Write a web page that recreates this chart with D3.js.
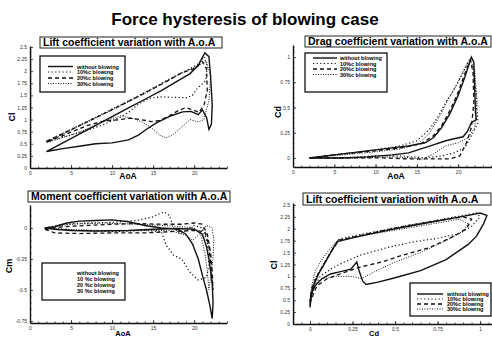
<!DOCTYPE html>
<html>
<head>
<meta charset="utf-8">
<script src="https://cdn.jsdelivr.net/npm/d3@7"></script>
<style>body{margin:0;background:#fff}</style>
</head>
<body>
<script>
const width = 492;
const height = 337;

// legend labels
const labelsA = ["without blowing", "10%c blowing", "20%c blowing", "30%c blowing"];
const labelsB = ["without blowing", "10 %c blowing", "20 %c blowing", "30 %c blowing"];

// tick values
const aoaTicks = [0, 5, 10, 15, 20];
const clTicks = [0, 0.25, 0.5, 0.75, 1, 1.25, 1.5, 1.75, 2, 2.25, 2.5];
const cdTicks = [0, 0.25, 0.5, 0.75, 1];
const cmTicks = [0, -0.25, -0.5, -0.75];

// Cl vs AoA  [AoA, Cl]
const clNone = [[2,0.34],[4,0.52],[6,0.70],[8,0.88],[10,1.06],[12,1.24],[14,1.42],[16,1.60],[18,1.80],[19.5,1.95],[20.5,2.12],[21.3,2.38],[21.8,2.30],[22.0,1.90],[22.2,1.30],[22.1,0.90],[21.8,0.80],[21.5,1.05],[21.0,1.20],[20.5,1.10],[19.6,1.17],[18.6,1.16],[17.2,1.08],[15.4,0.93],[14.2,0.80],[13.2,0.68],[12,0.58],[10,0.52],[8,0.50],[6,0.45],[4,0.40],[2,0.34]];
const cl10 = [[2,0.55],[5,0.80],[8,1.05],[11,1.30],[14,1.56],[17,1.84],[19.5,2.05],[20.5,2.15],[21.2,2.30],[21.6,2.10],[21.4,1.80],[20.4,1.65],[19.8,1.50],[19,1.45],[17.5,1.46],[16,1.47],[14.5,1.44],[13.2,1.32],[12,1.15],[11,1.05],[9,0.90],[7,0.78],[5,0.68],[2,0.55]];
const cl20 = [[2,0.55],[5,0.79],[8,1.04],[11,1.29],[14,1.55],[17,1.82],[18.5,1.97],[19.5,2.02],[20.3,2.08],[21,2.20],[21.5,2.05],[21.6,1.60],[21.2,1.30],[20.6,1.15],[19.8,1.20],[19,1.25],[18,1.18],[17,1.08],[15.8,0.98],[14.8,0.96],[13.5,1.00],[12.2,1.03],[11,1.00],[9,0.97],[7,0.88],[5,0.74],[2,0.53]];
const cl30 = [[2,0.53],[5,0.78],[8,1.03],[11,1.28],[14,1.54],[17,1.83],[19,2.00],[20.5,2.12],[21.5,2.20],[22.0,1.90],[21.8,1.40],[21.2,1.00],[20.5,0.95],[19.5,1.00],[18.5,0.85],[17.5,0.70],[16.6,0.62],[15.8,0.68],[15,0.80],[14,0.92],[13,1.00],[12,1.04],[11,1.08],[9,0.96],[6,0.74],[2,0.52]];

// Cd vs AoA  [AoA, Cd]
const cdNone = [[2,0],[5,0.03],[8,0.06],[11,0.09],[14,0.12],[16,0.15],[17,0.20],[18,0.30],[19,0.44],[20,0.62],[20.8,0.80],[21.6,1.00],[21.9,0.95],[22.0,0.70],[22.1,0.45],[22.2,0.38],[21.6,0.35],[21.1,0.26],[20.6,0.21],[19.5,0.19],[18.5,0.17],[17,0.13],[15.5,0.09],[14,0.05],[12,0.03],[9,0.01],[6,0],[2,0]];
const cd10 = [[2,0],[6,0.04],[10,0.08],[13,0.12],[15,0.17],[16.5,0.28],[17.5,0.40],[18.5,0.55],[19.5,0.68],[20.5,0.83],[21.2,0.95],[21.8,0.90],[22.2,0.60],[22.4,0.35],[21.8,0.25],[20.8,0.10],[19.5,0.05],[18,0.02],[16,0],[13,0.02],[10,0.02],[6,0],[2,0]];
const cd20 = [[2,0],[6,0.04],[10,0.07],[13,0.10],[15.5,0.14],[17,0.22],[18,0.32],[19,0.47],[20,0.65],[21,0.88],[21.5,0.97],[21.8,0.85],[21.9,0.55],[21.6,0.30],[21,0.15],[20.2,0.02],[19,-0.01],[17.4,-0.01],[15.5,-0.01],[13.8,-0.01],[11,0],[7,0],[2,0]];
const cd30 = [[2,0],[6,0.03],[10,0.06],[13,0.09],[15,0.13],[16.5,0.24],[17.8,0.42],[18.8,0.58],[19.8,0.72],[20.6,0.86],[21.4,0.98],[22.0,0.88],[22.3,0.55],[22.0,0.30],[21.2,0.20],[20,0.15],[18.5,0.12],[17,0.04],[15.5,-0.02],[14.5,0],[12,0.01],[8,0],[2,0]];

// Cm vs AoA  [AoA, Cm]
const cmNone = [[1.8,0],[3,0.01],[4.5,0.04],[6,0.055],[8,0.06],[10,0.065],[12,0.05],[14,0.02],[16,0],[18,-0.01],[19,-0.05],[19.8,-0.13],[20.5,-0.25],[21,-0.38],[21.5,-0.50],[21.9,-0.62],[22.2,-0.73],[22.3,-0.60],[22.2,-0.45],[22.0,-0.35],[21.8,-0.25],[21.5,-0.15],[21,-0.05],[20,-0.01],[18,-0.005],[15,-0.01],[12,-0.02],[8,-0.025],[5,-0.02],[3,-0.01],[1.8,0]];
const cm10 = [[1.8,0],[4,0.03],[7,0.04],[10,0.045],[13,0.06],[15,0.09],[16.3,0.13],[17,0.10],[17.5,0],[18.3,-0.05],[19,-0.02],[20,0.02],[21,0],[21.6,-0.12],[21.8,-0.30],[21.5,-0.40],[20.5,-0.42],[19.4,-0.35],[18.5,-0.25],[17.5,-0.22],[16.6,-0.14],[16,-0.03],[14,-0.02],[10,-0.03],[6,-0.02],[1.8,0]];
const cm20 = [[1.8,-0.01],[4,0.01],[7,0.02],[10,0.03],[13,0.035],[16,0.03],[18.5,0.03],[20,0.04],[21,0.03],[21.6,-0.05],[22,-0.20],[22.2,-0.35],[22.3,-0.50],[22.1,-0.35],[21.8,-0.15],[21.3,-0.03],[20,-0.02],[17,-0.03],[14,-0.04],[10,-0.04],[6,-0.045],[3,-0.04],[1.8,-0.01]];
const cm30 = [[1.8,0],[5,0.03],[9,0.04],[13,0.03],[16,0.02],[18.5,0.01],[20,0],[20.8,-0.05],[21.3,-0.20],[21.6,-0.35],[21.8,-0.50],[22.0,-0.40],[22.3,-0.25],[22.4,-0.10],[22.2,0],[21.5,0.02],[20.5,-0.06],[19.8,-0.10],[19,-0.06],[17,-0.02],[13,-0.02],[8,-0.02],[4,-0.01],[1.8,0]];

// Cl vs Cd  [Cd, Cl]
const polNone = [[0,0.35],[0.005,0.60],[0.02,0.80],[0.05,1.05],[0.09,1.30],[0.13,1.55],[0.16,1.73],[0.30,1.85],[0.50,2.00],[0.70,2.13],[0.90,2.26],[1.00,2.33],[1.04,2.28],[1.02,2.10],[0.98,1.85],[0.93,1.67],[0.80,1.35],[0.65,1.12],[0.50,0.97],[0.40,0.88],[0.33,0.83],[0.31,0.90],[0.29,1.10],[0.275,1.30],[0.24,1.15],[0.18,1.10],[0.12,1.05],[0.07,0.95],[0.03,0.80],[0.01,0.65],[0,0.35]];
const pol10 = [[0,0.40],[0.01,0.70],[0.03,0.95],[0.07,1.20],[0.12,1.50],[0.17,1.78],[0.30,1.88],[0.50,2.02],[0.70,2.15],[0.90,2.28],[0.98,2.33],[1.00,2.25],[0.95,2.05],[0.88,1.90],[0.75,1.80],[0.60,1.72],[0.45,1.60],[0.30,1.45],[0.20,1.30],[0.12,1.15],[0.06,1.00],[0.02,0.75],[0,0.40]];
const pol20 = [[0,0.45],[0.01,0.75],[0.04,1.00],[0.08,1.25],[0.13,1.55],[0.17,1.76],[0.35,1.90],[0.55,2.05],[0.75,2.17],[0.90,2.25],[0.95,2.20],[0.92,2.00],[0.85,1.85],[0.70,1.60],[0.55,1.45],[0.42,1.30],[0.30,1.20],[0.20,1.08],[0.10,0.95],[0.04,0.80],[0,0.45]];
const pol30 = [[0,0.50],[0.01,0.80],[0.03,1.10],[0.06,1.30],[0.10,1.50],[0.16,1.75],[0.35,1.88],[0.55,2.00],[0.75,2.12],[0.88,2.20],[0.93,2.10],[0.90,1.95],[0.80,1.75],[0.65,1.50],[0.50,1.30],[0.38,1.10],[0.30,0.95],[0.25,1.00],[0.15,1.00],[0.07,0.95],[0.02,0.80],[0,0.50]];

// estilos de linea por serie
const dashes = [null, "1.2,2.4", "4,3", "1,1.5"];
const widths = [1.4, 1.2, 1.3, 1.0];

const svg = d3.select("body")
  .append("svg")
  .attr("width", width)
  .attr("height", height)
  .style("font-family", "'Liberation Sans', Arial, sans-serif");

svg.append("text")
  .attr("x", 245)
  .attr("y", 25)
  .attr("text-anchor", "middle")
  .style("font-size", "17px")
  .style("font-weight", "bold")
  .text("Force hysteresis of blowing case");

function drawPanel(p) {
  const x = d3.scaleLinear().domain(p.xDomain).range([p.left, p.right]);
  const y = d3.scaleLinear().domain(p.yDomain).range([p.bottom, p.top]);
  const g = svg.append("g");

  // minor ticks
  g.append("g")
    .attr("transform", `translate(0,${p.bottom})`)
    .call(d3.axisBottom(x).tickValues(p.xMinor).tickSize(-1.5).tickFormat(""))
    .call(a => a.select(".domain").remove());
  g.append("g")
    .attr("transform", `translate(${p.left},0)`)
    .call(d3.axisLeft(y).tickValues(p.yMinor).tickSize(-1.5).tickFormat(""))
    .call(a => a.select(".domain").remove());

  // major axes
  const xa = g.append("g")
    .attr("transform", `translate(0,${p.bottom})`)
    .call(d3.axisBottom(x).tickValues(p.xTicks).tickSize(-3).tickSizeOuter(0).tickPadding(3).tickFormat(d => String(d)));
  const ya = g.append("g")
    .attr("transform", `translate(${p.left},0)`)
    .call(d3.axisLeft(y).tickValues(p.yTicks).tickSize(-3).tickSizeOuter(0).tickPadding(3).tickFormat(d => String(d)));
  [xa, ya].forEach(a => {
    a.select(".domain").attr("stroke", "#111").attr("stroke-width", 1.4);
    a.selectAll("text").style("font-size", "5px").attr("fill", "#333");
  });
  g.selectAll(".tick line").attr("stroke", "#222").attr("stroke-width", 0.8);

  // curvas
  const line = d3.line().x(d => x(d[0])).y(d => y(d[1]));
  g.selectAll("path.serie")
    .data(p.series)
    .join("path")
    .attr("class", "serie")
    .attr("d", d => line(d))
    .attr("fill", "none")
    .attr("stroke", "#111")
    .attr("stroke-width", (d, i) => widths[i])
    .attr("stroke-dasharray", (d, i) => dashes[i]);

  // titulo del panel
  const t = p.titleBox;
  g.append("rect")
    .attr("x", t.x).attr("y", t.y).attr("width", t.w).attr("height", t.h)
    .attr("fill", "white").attr("stroke", "#222").attr("stroke-width", 1);
  g.append("text")
    .attr("x", t.x + 3)
    .attr("y", t.y + t.h - 2)
    .style("font-size", "10.5px")
    .style("font-weight", "bold")
    .text(p.title);

  // leyenda
  const L = p.legend;
  g.append("rect")
    .attr("x", L.x).attr("y", L.y).attr("width", L.w).attr("height", L.h)
    .attr("fill", "white").attr("stroke", "#111").attr("stroke-width", 1.3);
  p.labels.forEach((lab, i) => {
    const ry = L.rows[i];
    if (L.lineX) {
      g.append("line")
        .attr("x1", L.lineX[0]).attr("x2", L.lineX[1])
        .attr("y1", ry).attr("y2", ry)
        .attr("stroke", "#111")
        .attr("stroke-width", widths[i])
        .attr("stroke-dasharray", dashes[i]);
    }
    g.append("text")
      .attr("x", L.textX)
      .attr("y", ry + 2)
      .style("font-size", "5.5px")
      .style("font-weight", "bold")
      .text(lab);
  });

  // etiquetas de ejes
  g.append("text")
    .attr("transform", `translate(${p.yLabel[0]},${p.yLabel[1]}) rotate(-90)`)
    .attr("text-anchor", "middle")
    .style("font-size", "9px")
    .style("font-weight", "bold")
    .text(p.yName);
  g.append("text")
    .attr("x", p.xLabel[0])
    .attr("y", p.xLabel[1])
    .attr("text-anchor", "middle")
    .style("font-size", p.xLabelSize || "8.5px")
    .style("font-weight", "bold")
    .text(p.xName);
}

const aoaMinor = d3.range(0, 25, 1);

drawPanel({
  left: 30, right: 227, top: 46, bottom: 168,
  xDomain: [0, 24], yDomain: [0, 2.52],
  xTicks: aoaTicks, xMinor: aoaMinor,
  yTicks: clTicks, yMinor: d3.range(0, 2.51, 0.05),
  series: [clNone, cl10, cl20, cl30],
  title: "Lift coefficient variation with A.o.A",
  titleBox: {x: 40, y: 37, w: 182, h: 11},
  legend: {x: 40, y: 56, w: 85, h: 36, rows: [66.5, 72, 78, 83.5], lineX: [48, 73], textX: 77},
  labels: labelsA,
  yName: "Cl", yLabel: [15, 117],
  xName: "AoA", xLabel: [128, 179]
});

drawPanel({
  left: 293, right: 492, top: 45, bottom: 167,
  xDomain: [0, 24.1], yDomain: [-0.09, 1.12],
  xTicks: aoaTicks, xMinor: aoaMinor,
  yTicks: cdTicks, yMinor: d3.range(-0.05, 1.11, 0.05),
  series: [cdNone, cd10, cd20, cd30],
  title: "Drag coefficient variation with A.o.A",
  titleBox: {x: 305, y: 36, w: 186, h: 11},
  legend: {x: 305, y: 53, w: 82, h: 39, rows: [58, 63.5, 69, 74.5], lineX: [313, 337], textX: 340},
  labels: labelsA,
  yName: "Cd", yLabel: [281, 112],
  xName: "AoA", xLabel: [396, 179]
});

drawPanel({
  left: 30, right: 227, top: 205, bottom: 323,
  xDomain: [0, 24], yDomain: [-0.766, 0.185],
  xTicks: aoaTicks, xMinor: aoaMinor,
  yTicks: cmTicks, yMinor: d3.range(-0.75, 0.16, 0.05),
  series: [cmNone, cm10, cm20, cm30],
  title: "Moment coefficient variation with A.o.A",
  titleBox: {x: 28, y: 191, w: 202, h: 11},
  legend: {x: 42, y: 263, w: 83, h: 37, rows: [273, 279, 285, 291], lineX: null, textX: 77},
  labels: labelsB,
  yName: "Cm", yLabel: [12, 266],
  xName: "AoA", xLabel: [123, 335.5], xLabelSize: "7.5px"
});

drawPanel({
  left: 293, right: 492, top: 203, bottom: 324,
  xDomain: [-0.1, 1.07], yDomain: [0, 2.54],
  xTicks: cdTicks, xMinor: d3.range(-0.1, 1.07, 0.05),
  yTicks: clTicks, yMinor: d3.range(0, 2.51, 0.05),
  series: [polNone, pol10, pol20, pol30],
  title: "Lift coefficient variation with A.o.A",
  titleBox: {x: 303, y: 193, w: 188, h: 12},
  legend: {x: 410, y: 283, w: 81, h: 33, rows: [294, 299, 304, 309], lineX: [417, 443], textX: 447},
  labels: labelsA,
  yName: "Cl", yLabel: [277, 265],
  xName: "Cd", xLabel: [374, 335.5], xLabelSize: "7.5px"
});
</script>
</body>
</html>
